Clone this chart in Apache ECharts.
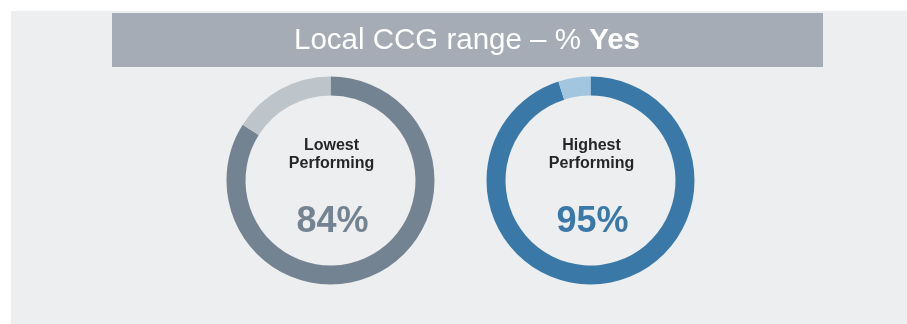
<!DOCTYPE html>
<html>
<head>
<meta charset="utf-8">
<script src="https://cdn.jsdelivr.net/npm/echarts@6/dist/echarts.min.js"></script>
<style>
  html, body { margin: 0; padding: 0; background: #ffffff; }
  #chart { width: 907px; height: 324px; }
</style>
</head>
<body>
<div id="chart"></div>
<script>
// Local CCG range of "Yes" responses
const groups = ['Lowest\nPerforming', 'Highest\nPerforming'];
const yesValues = [84, 95];
const ringColors = ['#748391', '#3a79a7'];
const restColors = ['#bdc4ca', '#a3c6e0'];
const centersX = [330.5, 590.5];

const chart = echarts.init(document.getElementById('chart'), null, { renderer: 'canvas' });

const series = yesValues.map((v, i) => ({
  type: 'pie',
  center: [centersX[i], 180.5],
  radius: [85, 104],
  startAngle: 90,
  clockwise: true,
  silent: true,
  animation: false,
  label: { show: false },
  labelLine: { show: false },
  data: [
    { value: v, itemStyle: { color: ringColors[i] } },
    { value: 100 - v, itemStyle: { color: restColors[i] } }
  ]
}));

const titles = [{
  text: '{r|Local CCG range – % }{b|Yes}',
  left: 467, top: 26, textAlign: 'center', padding: 0,
  textStyle: {
    fontWeight: 'normal',
    rich: {
      r: { fontFamily: 'Liberation Sans, Arial, sans-serif', fontSize: 29.5, fontWeight: 'normal', color: '#ffffff' },
      b: { fontFamily: 'Liberation Sans, Arial, sans-serif', fontSize: 29.5, fontWeight: 'bold', color: '#ffffff' }
    }
  }
}];
groups.forEach((g, i) => {
  titles.push({
    text: g,
    left: centersX[i] + 1, top: 136, textAlign: 'center', padding: 0,
    textStyle: {
      fontFamily: 'Liberation Sans, Arial, sans-serif',
      fontSize: 16, fontWeight: 'bold', color: '#262626', lineHeight: 18.5, align: 'center'
    }
  });
  titles.push({
    text: yesValues[i] + '%',
    left: centersX[i] + 2, top: 204, textAlign: 'center', padding: 0,
    textStyle: {
      fontFamily: 'Liberation Sans, Arial, sans-serif',
      fontSize: 36, fontWeight: 'bold', color: ringColors[i]
    }
  });
});

chart.setOption({
  backgroundColor: '#ffffff',
  animation: false,
  graphic: [
    { type: 'rect', z: -10, shape: { x: 11, y: 11, width: 896, height: 313 }, style: { fill: '#edeef0' }, silent: true },
    { type: 'rect', z: -9, shape: { x: 112, y: 13, width: 711, height: 54 }, style: { fill: '#a5acb5' }, silent: true }
  ],
  title: titles,
  series: series
});
</script>
</body>
</html>
